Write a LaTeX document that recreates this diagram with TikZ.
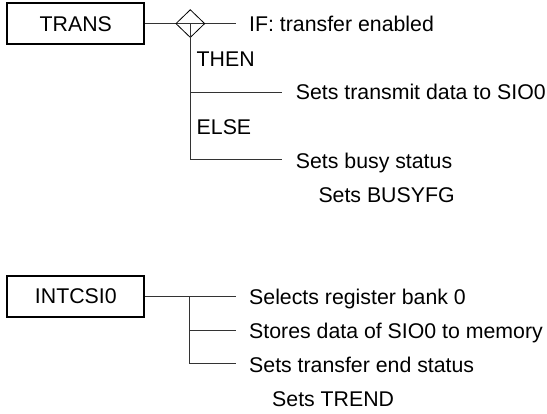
\documentclass[tikz,border=0pt]{standalone}
\usepackage{fontspec}
\setmainfont{Liberation Sans}
\usetikzlibrary{shapes.geometric}
\begin{document}
\begin{tikzpicture}[x=1pt,y=-1pt,
  every node/.style={font=\fontsize{21.3}{25}\selectfont},
  modbox/.style={draw,line width=1.9pt,minimum width=137pt,minimum height=41pt,inner sep=0pt},
  conn/.style={draw=black!80,line width=0.8pt},
  lbl/.style={anchor=base west,inner sep=0pt},
  cond/.style={draw,diamond,inner sep=0pt,minimum width=29pt,minimum height=28pt,line width=0.8pt}
]
\useasboundingbox (0,0) rectangle (547,414);
% ---- TRANS ----
\node[modbox] (trans) at (75.8,23.8) {TRANS};
\coordinate (ifend) at (236,23.8);
\draw[conn] (trans.east) -- (ifend);
\node[cond] (dia) at (190.3,23.6) {};
\coordinate (thenj) at (190.3,92.3);
\coordinate (elsej) at (190.3,159.5);
\coordinate (thenend) at (281.7,92.3);
\coordinate (elseend) at (281.7,159.5);
\draw[conn] (dia.center) -- (elsej) -- (elseend);
\draw[conn] (thenj) -- (thenend);
\node[lbl] (iftxt) at (249,31.7) {IF: transfer enabled};
\node[lbl] (then) at (196.5,66.7) {THEN};
\node[lbl] (t1) at (295.7,100) {Sets transmit data to SIO0};
\node[lbl] (else) at (196.5,135) {ELSE};
\node[lbl] (e1) at (295.7,168.3) {Sets busy status};
\node[lbl] (e2) at (318.3,202.3) {Sets BUSYFG};
% ---- INTCSI0 ----
\node[modbox] (intc) at (75.8,296.5) {INTCSI0};
\coordinate (j0) at (189.5,296.5);
\coordinate (j1) at (189.5,330);
\coordinate (j2) at (189.5,363);
\coordinate (b0) at (236,296.5);
\coordinate (b1) at (236,330);
\coordinate (b2) at (236,363);
\draw[conn] (intc.east) -- (b0);
\draw[conn] (j0) -- (j2) -- (b2);
\draw[conn] (j1) -- (b1);
\node[lbl] (s1) at (249,305) {Selects register bank 0};
\node[lbl] (s2) at (249,338.7) {Stores data of SIO0 to memory};
\node[lbl] (s3) at (249,372.7) {Sets transfer end status};
\node[lbl] (s4) at (272,406.7) {Sets TREND};
\end{tikzpicture}
\end{document}
